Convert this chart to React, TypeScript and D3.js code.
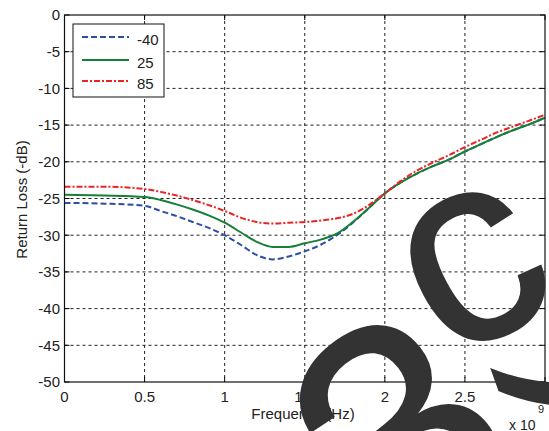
import React from "react";
import * as d3 from "d3";

const freq = [0, 0.25, 0.5, 0.6, 0.7, 0.8, 0.9, 1.0, 1.1, 1.2, 1.3, 1.4, 1.5, 1.6, 1.7, 1.8, 1.9, 2.0, 2.1, 2.2, 2.3, 2.4, 2.5, 2.6, 2.7, 2.8, 2.9, 3.0];
const seriesM40 = [-25.6, -25.7, -26.0, -26.7, -27.4, -28.2, -29.0, -30.0, -31.3, -32.7, -33.3, -32.9, -32.2, -31.3, -30.0, -28.3, -26.3, -24.3, -22.8, -21.6, -20.6, -19.7, -18.6, -17.6, -16.6, -15.7, -14.9, -14.0];
const series25 = [-24.5, -24.6, -24.8, -25.2, -25.8, -26.5, -27.3, -28.3, -29.6, -30.9, -31.6, -31.6, -31.1, -30.6, -29.8, -28.2, -26.3, -24.3, -22.8, -21.6, -20.6, -19.7, -18.6, -17.6, -16.6, -15.7, -14.9, -14.0];
const series85 = [-23.4, -23.4, -23.7, -24.1, -24.6, -25.2, -25.9, -26.7, -27.6, -28.2, -28.4, -28.3, -28.2, -28.0, -27.7, -27.1, -25.9, -24.3, -22.6, -21.2, -20.1, -19.1, -18.0, -17.0, -16.0, -15.2, -14.4, -13.6];
const seriesNames = ["-40", "25", "85"];
const xTicks = [0, 0.5, 1, 1.5, 2, 2.5, 3];
const yTicks = [0, -5, -10, -15, -20, -25, -30, -35, -40, -45, -50];

const W = 549, H = 431;
const L = 64.5, R = 545, T = 15, B = 382;
const font = "'Liberation Sans', Arial, sans-serif";
const FS = 15;

export default function App() {
  const x = d3.scaleLinear().domain([0, 3]).range([L, R]);
  const y = d3.scaleLinear().domain([-50, 0]).range([B, T]);
  const line = d3.line<[number, number]>().x(d => x(d[0])).y(d => y(d[1])).curve(d3.curveMonotoneX);
  const mk = (vals: number[]) => line(freq.map((f, i) => [f, vals[i]] as [number, number])) || "";
  const series = [
    { name: seriesNames[0], vals: seriesM40, color: "#2c4ea6", dash: "6,3" },
    { name: seriesNames[1], vals: series25, color: "#168038", dash: "" },
    { name: seriesNames[2], vals: series85, color: "#ee2222", dash: "6,2,2,2" },
  ];
  const lgY = [37, 60, 81];
  return (
    <svg width={W} height={H} style={{ position: "absolute", left: 0, top: 0, background: "#fff" }}>
      <rect x={0} y={0} width={W} height={H} fill="#fff" />
      {xTicks.slice(1, -1).map(t => (
        <line key={"gx" + t} x1={x(t)} x2={x(t)} y1={T} y2={B} stroke="#222" strokeWidth={1} strokeDasharray="3,3" />
      ))}
      {yTicks.slice(1, -1).map(t => (
        <line key={"gy" + t} x1={L} x2={R} y1={y(t)} y2={y(t)} stroke="#222" strokeWidth={1} strokeDasharray="3,3" />
      ))}
      {xTicks.map(t => (
        <g key={"tx" + t}>
          <line x1={x(t)} x2={x(t)} y1={B} y2={B - 5} stroke="#000" />
          <line x1={x(t)} x2={x(t)} y1={T} y2={T + 5} stroke="#000" />
          <text x={x(t)} y={B + 20} textAnchor="middle" fontFamily={font} fontSize={FS} fill="#222">{t}</text>
        </g>
      ))}
      {yTicks.map(t => (
        <g key={"ty" + t}>
          <line x1={L} x2={L + 5} y1={y(t)} y2={y(t)} stroke="#000" />
          <line x1={R} x2={R - 5} y1={y(t)} y2={y(t)} stroke="#000" />
          <text x={L - 4.5} y={y(t) + 5.3} textAnchor="end" fontFamily={font} fontSize={FS} fill="#222">{t}</text>
        </g>
      ))}
      {series.map(s => (
        <path key={s.name} d={mk(s.vals)} fill="none" stroke={s.color} strokeWidth={2} strokeDasharray={s.dash || undefined} />
      ))}
      <rect x={L} y={T} width={R - L} height={B - T} fill="none" stroke="#111" strokeWidth={1.2} />
      <rect x={73} y={24} width={91} height={73} fill="#fff" stroke="#111" strokeWidth={1} />
      {series.map((s, i) => (
        <g key={"lg" + s.name}>
          <line x1={82} x2={129} y1={lgY[i]} y2={lgY[i]} stroke={s.color} strokeWidth={2} strokeDasharray={s.dash || undefined} />
          <text x={137} y={lgY[i] + 8} fontFamily={font} fontSize={FS} fill="#222">{s.name}</text>
        </g>
      ))}
      <text x={303} y={419} textAnchor="middle" fontFamily={font} fontSize={FS} fill="#222">Frequency (Hz)</text>
      <text transform={`translate(27,${(T + B) / 2 + 1}) rotate(-90)`} textAnchor="middle" fontFamily={font} fontSize={FS} fill="#222">Return Loss (-dB)</text>
      <g fill="#333" stroke="#333" strokeWidth={2} fontFamily={font}>
        <text transform="translate(478,268) rotate(-28)" x={-71.5} y={70} fontSize={270}>c</text>
        <text transform="translate(392,415) rotate(-38)" x={-90} y={124} fontSize={310}>3</text>
        <text transform="translate(500,388) rotate(-110)" x={-65} y={187} fontSize={260}>(</text>
      </g>
      <text x={509} y={430} fontFamily={font} fontSize={14} fill="#222">x 10</text>
      <text x={538} y={413} fontFamily={font} fontSize={11} fill="#222">9</text>
    </svg>
  );
}
